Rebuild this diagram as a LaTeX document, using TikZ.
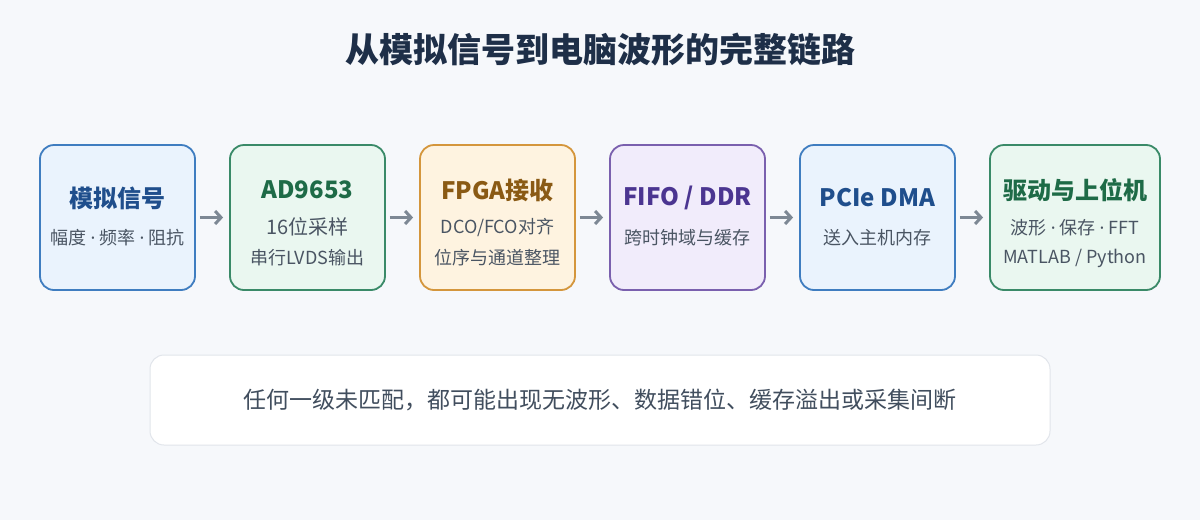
\documentclass[tikz,border=0pt]{standalone}
\usepackage{fontspec}
\setmainfont{Noto Sans CJK SC}
\newfontfamily\latinfont{Noto Sans}
\usepackage{tikz}
\usetikzlibrary{positioning,arrows.meta,calc}

\definecolor{bgcol}{HTML}{F6F8FB}
\definecolor{navy}{HTML}{1E2F48}
\definecolor{subgray}{HTML}{4A5563}
\definecolor{arrgray}{HTML}{7D8894}
\definecolor{blueline}{HTML}{3F7DC0}
\definecolor{bluefill}{HTML}{EAF3FD}
\definecolor{bluetext}{HTML}{1F4E8C}
\definecolor{greenline}{HTML}{3A8A68}
\definecolor{greenfill}{HTML}{EAF7F0}
\definecolor{greentext}{HTML}{1E6B47}
\definecolor{orangeline}{HTML}{D4963C}
\definecolor{orangefill}{HTML}{FEF3E0}
\definecolor{orangetext}{HTML}{8A5A14}
\definecolor{purpleline}{HTML}{7A60AE}
\definecolor{purplefill}{HTML}{F1ECFB}
\definecolor{purpletext}{HTML}{4B3591}
\definecolor{noteline}{HTML}{E1E5EB}

\newcommand{\sep}{ {\latinfont\textperiodcentered} }

\begin{document}
\begin{tikzpicture}[x=1pt,y=-1pt,>=latex,
	stage/.style={draw,rounded corners=14pt,line width=1.8pt,
		minimum width=155pt,minimum height=145pt,inner sep=0pt},
	head/.style={font=\bfseries\fontsize{24}{26}\selectfont},
	sub/.style={text=subgray,font=\fontsize{18}{20}\selectfont},
	flow/.style={->,arrgray,line width=3pt,
		-{Straight Barb[length=6pt,width=13pt,line width=3pt]},
		shorten <=4pt,shorten >=6pt}]
	\fill[bgcol] (0,0) rectangle (1200,520);
	\useasboundingbox (0,0) rectangle (1200,520);

	\node[text=navy,font=\bfseries\fontsize{34}{36}\selectfont]
		(title) at (600,50) {从模拟信号到电脑波形的完整链路};

	\node[stage,draw=blueline,fill=bluefill] (S1) at (117.5,217.5) {};
	\node[stage,draw=greenline,fill=greenfill] (S2) at (307.5,217.5) {};
	\node[stage,draw=orangeline,fill=orangefill] (S3) at (497.5,217.5) {};
	\node[stage,draw=purpleline,fill=purplefill] (S4) at (687.5,217.5) {};
	\node[stage,draw=blueline,fill=bluefill] (S5) at (877.5,217.5) {};
	\node[stage,draw=greenline,fill=greenfill,
		  minimum width=170pt] (S6) at (1075,217.5) {};

	\node[head,text=bluetext] (h1) at (117.5,198) {模拟信号};
	\node[sub] (s1) at (117.5,238) {幅度\sep 频率\sep 阻抗};

	\node[head,text=greentext] (h2) at (307.5,190) {AD9653};
	\node[sub,font=\fontsize{20}{22}\selectfont] (s2a) at (307.5,227) {16位采样};
	\node[sub] (s2b) at (307.5,258) {串行LVDS输出};

	\node[head,text=orangetext] (h3) at (497.5,190) {FPGA接收};
	\node[sub] (s3a) at (497.5,228) {DCO/FCO对齐};
	\node[sub] (s3b) at (497.5,258) {位序与通道整理};

	\node[head,text=purpletext] (h4) at (687.5,198) {FIFO / DDR};
	\node[sub] (s4) at (687.5,238) {跨时钟域与缓存};

	\node[head,text=bluetext] (h5) at (877.5,198) {PCIe DMA};
	\node[sub] (s5) at (877.5,238) {送入主机内存};

	\node[head,text=greentext] (h6) at (1075,190) {驱动与上位机};
	\node[sub] (s6a) at (1075,228) {波形\sep 保存\sep FFT};
	\node[sub] (s6b) at (1075,258) {MATLAB / Python};

	\draw[flow] (S1) -- (S2);
	\draw[flow] (S2) -- (S3);
	\draw[flow] (S3) -- (S4);
	\draw[flow] (S4) -- (S5);
	\draw[flow] (S5) -- (S6);

	\node[draw=noteline,fill=white,line width=1pt,rounded corners=14pt,
		  minimum width=900pt,minimum height=90pt,
		  text=subgray!80!navy,font=\fontsize{23}{25}\selectfont]
		  (note) at (600,400) {任何一级未匹配，都可能出现无波形、数据错位、缓存溢出或采集间断};
\end{tikzpicture}
\end{document}
